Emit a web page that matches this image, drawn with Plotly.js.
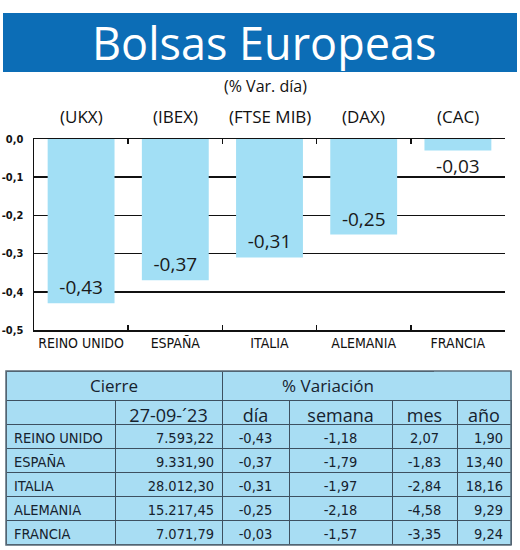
<!DOCTYPE html>
<html><head><meta charset="utf-8">
<script src="https://cdn.plot.ly/plotly-3.0.1.min.js"></script>
<style>html,body{margin:0;padding:0;background:#fff;}</style>
</head><body><div id="chart" style="width:520px;height:550px;"></div>
<script>
const countries = ['REINO UNIDO','ESPAÑA','ITALIA','ALEMANIA','FRANCIA'];
const indices = ['(UKX)','(IBEX)','(FTSE MIB)','(DAX)','(CAC)'];
const varDia = [-0.43,-0.37,-0.31,-0.25,-0.03];
const cierre = [7593.22, 9331.90, 28012.30, 15217.45, 7071.79];
const varSemana = [-1.18,-1.79,-1.97,-2.18,-1.57];
const varMes = [2.07,-1.83,-2.84,-4.58,-3.35];
const varAno = [1.90,13.40,18.16,9.29,9.24];
const yTickVals = [0,-0.1,-0.2,-0.3,-0.4,-0.5];
const yTickText = ['0,0','-0,1','-0,2','-0,3','-0,4','-0,5'];
const tableHeadTop = ['Cierre','% Variación',''];
const tableHead = ['', '27-09-´23', 'día','semana','mes','año'];

function fmt(v){
  const s = Math.abs(v).toFixed(2).split('.');
  const i = s[0].replace(/\B(?=(\d{3})+(?!\d))/g,'.');
  return (v<0?'-':'') + i + ',' + s[1];
}

const NARROW = '"DejaVu Sans Condensed", "Liberation Sans Narrow", Roboto, sans-serif';
const HUM = '"Open Sans", "Noto Sans", sans-serif';
const W = 520, H = 550;
const px = x => x / W;
const py = y => (H - y) / H;

const bar = {
  type: 'bar', x: countries, y: varDia,
  marker: {color: '#A2DFF5'}, width: 0.71,
  text: varDia.map(fmt), textposition: 'auto', insidetextanchor: 'end',
  constraintext: 'none', cliponaxis: false,
  textfont: {family: HUM, size: 19, color: '#1a1a1a'},
  insidetextfont: {family: HUM, size: 19, color: '#1a1a1a'},
  outsidetextfont: {family: HUM, size: 19, color: '#1a1a1a'},
  hoverinfo: 'none', xaxis: 'x', yaxis: 'y'
};

const tblFill = '#A8DDF3';
const tblLine = '#3d5060';
const tableTop = {
  type: 'table',
  domain: {x: [px(6), px(511)], y: [py(400), py(371)]},
  columnwidth: [216, 212, 77],
  header: {values: tableHeadTop, height: 29, fill: {color: tblFill},
    line: {color: [tblLine, tblLine, tblFill], width: 1}, align: 'center',
    font: {family: HUM, size: 17, color: '#16222e'}},
  cells: {values: [[],[],[]], height: 1, fill: {color: tblFill}, line: {color: tblLine, width: 1}}
};
const tableMain = {
  type: 'table',
  domain: {x: [px(6), px(511)], y: [0, py(400)]},
  columnwidth: [109, 107, 67, 103, 65, 54],
  header: {values: tableHead, height: 24, fill: {color: tblFill},
    line: {color: tblLine, width: 1}, align: 'center',
    font: {family: HUM, size: 18, color: '#16222e'}},
  cells: {values: [countries, cierre.map(fmt), varDia.map(fmt), varSemana.map(fmt), varMes.map(fmt), varAno.map(fmt)],
    height: 24, fill: {color: tblFill}, line: {color: tblLine, width: 1},
    align: ['left','right','center','center','center','right'],
    font: {family: NARROW, size: 14.5, color: '#16222e'}}
};

const annotations = [
  {text: 'Bolsas Europeas', xref: 'paper', yref: 'paper', x: px(264), y: py(42), xanchor: 'center', yanchor: 'middle',
   showarrow: false, font: {family: HUM, size: 45, color: '#ffffff'}},
  {text: '(% Var. día)', xref: 'paper', yref: 'paper', x: px(265), y: py(86), xanchor: 'center', yanchor: 'middle',
   showarrow: false, font: {family: HUM, size: 16, color: '#111'}}
].concat(indices.map((t, i) => ({
  text: t, xref: 'x', yref: 'paper', x: countries[i], y: py(116), xanchor: 'center', yanchor: 'middle',
  showarrow: false, font: {family: HUM, size: 17, color: '#111'}
})));

const layout = {
  width: W, height: H, margin: {l: 0, r: 0, t: 0, b: 0},
  paper_bgcolor: '#fff', plot_bgcolor: 'rgba(0,0,0,0)', showlegend: false,
  xaxis: {domain: [px(34), px(505)], anchor: 'y', showline: true, linecolor: '#111', linewidth: 1.5,
    mirror: 'ticks', ticks: 'inside', tickson: 'boundaries', ticklen: 5, tickcolor: '#111', tickwidth: 1.5,
    layer: 'below traces', showgrid: false, fixedrange: true, tickangle: 0, automargin: false,
    tickfont: {family: NARROW, size: 14, color: '#111'}},
  yaxis: {domain: [py(330), py(139)], anchor: 'x', range: [-0.5, 0], tickvals: yTickVals, ticktext: yTickText,
    showgrid: true, gridcolor: '#111', gridwidth: 1.5, showline: true, linecolor: '#111', linewidth: 1.5,
    ticks: 'outside', ticklen: 7, tickcolor: 'rgba(0,0,0,0)', zeroline: false, layer: 'below traces',
    fixedrange: true, automargin: false, tickfont: {family: NARROW, size: 11, color: '#111', weight: 'bold'}},
  shapes: [
    {type: 'rect', xref: 'paper', yref: 'paper', x0: px(3), x1: px(517), y0: py(72), y1: py(13),
     fillcolor: '#0C6DB6', line: {width: 0}, layer: 'below'},
    {type: 'rect', xref: 'paper', yref: 'paper', x0: px(6), x1: px(511), y0: py(545), y1: py(371),
     fillcolor: 'rgba(0,0,0,0)', line: {width: 1.5, color: '#5a6b78'}, layer: 'above'}
  ],
  annotations: annotations
};

Plotly.newPlot('chart', [bar, tableTop, tableMain], layout, {displayModeBar: false, staticPlot: true});
</script></body></html>
